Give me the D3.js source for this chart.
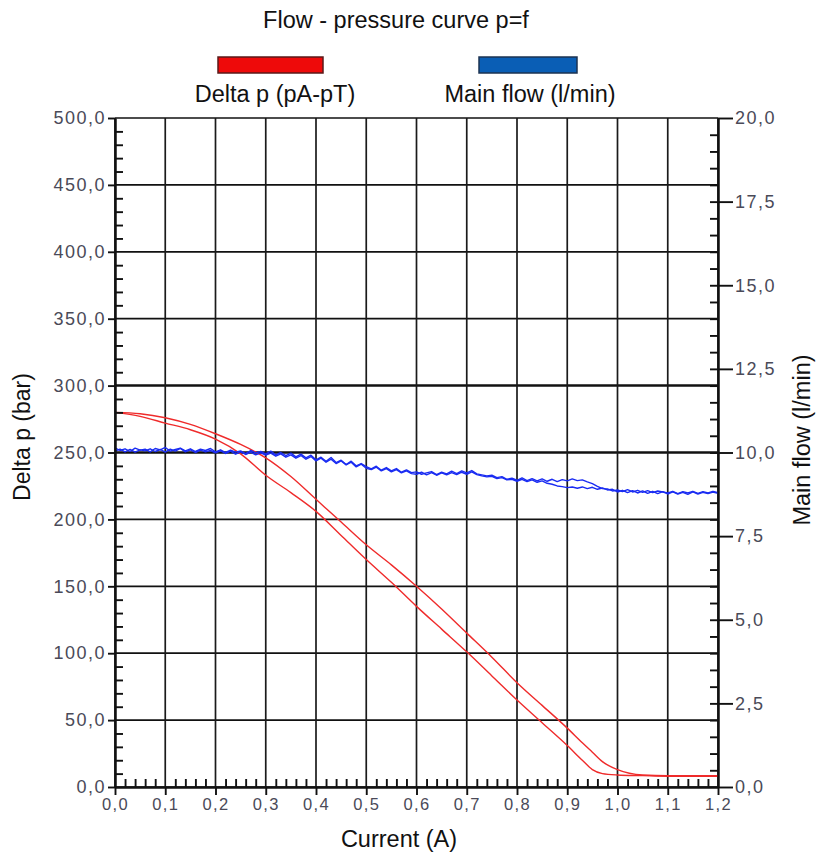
<!DOCTYPE html>
<html>
<head>
<meta charset="utf-8">
<script src="https://cdn.jsdelivr.net/npm/d3@7"></script>
<style>
  html, body { margin: 0; padding: 0; background: #fff; }
  svg { display: block; }
  .tick text { font-family: "Liberation Sans", Arial, sans-serif; font-size: 18px; letter-spacing: 1.5px; fill: #4a4a58; }
  .lbl { font-family: "Liberation Sans", Arial, sans-serif; fill: #111; }
</style>
</head>
<body>
<svg id="chart" width="818" height="856"></svg>
<script>
// ---------------- DATA ----------------
const chartTitle = "Flow - pressure curve p=f";
const seriesNames = ["Delta p (pA-pT)", "Main flow (l/min)"];
const xLabel = "Current (A)";
const yLeftLabel = "Delta p (bar)";
const yRightLabel = "Main flow (l/min)";

const xTicks = [0, 0.1, 0.2, 0.3, 0.4, 0.5, 0.6, 0.7, 0.8, 0.9, 1.0, 1.1, 1.2];
const yLeftTicks = [0, 50, 100, 150, 200, 250, 300, 350, 400, 450, 500];
const yRightTicks = [0, 2.5, 5, 7.5, 10, 12.5, 15, 17.5, 20];

// Delta p (bar): two hysteresis branches
const pressureX = [0, 0.05, 0.1, 0.15, 0.2, 0.25, 0.3, 0.35, 0.4, 0.45, 0.5, 0.55, 0.6, 0.65, 0.7, 0.75, 0.8, 0.85, 0.9, 0.93, 0.95, 0.97, 1.0, 1.05, 1.1, 1.15, 1.2];
const pressureLower = [280, 277, 272, 267, 260, 249, 233, 220, 206, 188, 170, 153, 135, 118, 101, 83, 65, 48, 31, 20, 13, 10, 9, 8.5, 8, 8, 8];
const pressureUpper = [280, 279, 276, 271, 264, 256, 246, 232, 215, 198, 181, 166, 150, 133, 115, 97, 78, 61, 44, 33, 26, 19, 13, 9, 8.5, 8.5, 8.5];

// Main flow (l/min): two noisy traces sampled every 0.01 A (0 .. 1.2)
const flowX = d3.range(0, 121).map(i => i / 100);
const flowTraceA = [
  10.14, 10.06, 10.11, 10.03, 10.13, 10.07, 10.10, 10.02, 10.12, 10.08,
  10.15, 10.04, 10.09, 10.13, 10.05, 10.11, 10.03, 10.10, 10.06, 10.12,
  10.02, 10.08, 10.00, 10.07, 10.01, 10.05, 9.97, 10.06, 9.99, 10.03,
  9.96, 10.04, 9.93, 10.00, 9.91, 9.98, 9.87, 9.95, 9.84, 9.92,
  9.78, 9.86, 9.74, 9.85, 9.70, 9.77, 9.64, 9.74, 9.60, 9.67,
  9.58, 9.51, 9.59, 9.47, 9.55, 9.45, 9.52, 9.41, 9.48, 9.40,
  9.42, 9.35, 9.39, 9.43, 9.34, 9.41, 9.36, 9.44, 9.37, 9.45,
  9.39, 9.46, 9.36, 9.33, 9.30, 9.32, 9.25, 9.28, 9.20, 9.23,
  9.17, 9.24, 9.16, 9.22, 9.15, 9.21, 9.14, 9.20, 9.13, 9.19,
  9.15, 9.21, 9.16, 9.18, 9.12, 9.07, 8.99, 8.92, 8.91, 8.85,
  8.88, 8.83, 8.89, 8.82, 8.87, 8.81, 8.86, 8.80, 8.85, 8.82,
  8.79, 8.84, 8.77, 8.83, 8.79, 8.84, 8.78, 8.83, 8.79, 8.84, 8.80
];
const flowTraceB = [
  10.04, 10.10, 10.02, 10.09, 10.01, 10.08, 10.05, 10.11, 10.03, 10.09,
  10.01, 10.10, 10.04, 10.12, 10.02, 10.08, 10.00, 10.07, 10.02, 10.06,
  9.99, 10.05, 9.97, 10.04, 9.95, 10.02, 9.94, 10.01, 9.93, 9.99,
  9.92, 9.98, 9.89, 9.96, 9.86, 9.93, 9.83, 9.91, 9.80, 9.88,
  9.75, 9.83, 9.71, 9.80, 9.67, 9.75, 9.63, 9.71, 9.57, 9.65,
  9.53, 9.49, 9.56, 9.45, 9.52, 9.42, 9.49, 9.39, 9.45, 9.37,
  9.35, 9.41, 9.33, 9.40, 9.32, 9.39, 9.33, 9.40, 9.34, 9.41,
  9.35, 9.42, 9.34, 9.30, 9.27, 9.29, 9.22, 9.25, 9.18, 9.20,
  9.14, 9.20, 9.13, 9.18, 9.11, 9.15, 9.08, 9.05, 9.00, 8.98,
  8.95, 8.97, 8.93, 8.97, 8.92, 8.96, 8.90, 8.94, 8.88, 8.90,
  8.82, 8.87, 8.80, 8.86, 8.79, 8.85, 8.78, 8.84, 8.77, 8.83,
  8.76, 8.82, 8.76, 8.81, 8.75, 8.82, 8.76, 8.81, 8.77, 8.82, 8.78
];

// ---------------- LAYOUT ----------------
const svg = d3.select("#chart");
const L = 115, R = 718, T = 118, B = 787;
const x = d3.scaleLinear().domain([0, 1.2]).range([L, R]);
const yL = d3.scaleLinear().domain([0, 500]).range([B, T]);
const yR = d3.scaleLinear().domain([0, 20]).range([B, T]);
const fmt1 = d => d3.format(".1f")(d).replace(".", ",");

// Gridlines
const grid = svg.append("g").attr("class", "grid");
grid.selectAll("line.h").data(yLeftTicks).join("line")
  .attr("x1", L).attr("x2", R)
  .attr("y1", d => yL(d)).attr("y2", d => yL(d))
  .attr("stroke", "#111")
  .attr("stroke-width", d => (d === 250 || d === 300) ? 2.5 : 1.7);
grid.selectAll("line.v").data(xTicks).join("line")
  .attr("x1", d => x(d)).attr("x2", d => x(d))
  .attr("y1", T).attr("y2", B)
  .attr("stroke", "#1a1a1a").attr("stroke-width", 1.7);

// Data lines
const redLine = d3.line().x(d => x(d[0])).y(d => yL(d[1])).curve(d3.curveMonotoneX);
[pressureLower, pressureUpper].forEach(arr => {
  svg.append("path")
    .datum(pressureX.map((v, i) => [v, arr[i]]))
    .attr("d", redLine)
    .attr("fill", "none").attr("stroke", "#ef2b2b").attr("stroke-width", 1.4);
});
const blueLine = d3.line().x(d => x(d[0])).y(d => yR(d[1]));
[flowTraceA, flowTraceB].forEach(arr => {
  svg.append("path")
    .datum(flowX.map((v, i) => [v, arr[i]]))
    .attr("d", blueLine)
    .attr("fill", "none").attr("stroke", "#1a2cf2").attr("stroke-width", 1.4)
    .attr("stroke-linejoin", "round");
});

// Axes
function styleAxis(g) {
  g.selectAll(".domain").attr("stroke", "#111").attr("stroke-width", 2);
  g.selectAll(".tick line").attr("stroke", "#111").attr("stroke-width", 1.9);
}
// left major
svg.append("g").attr("transform", `translate(${L},0)`)
  .call(d3.axisLeft(yL).tickValues(yLeftTicks).tickFormat(fmt1).tickSize(7).tickSizeOuter(0).tickPadding(2))
  .call(styleAxis);
// left minor (inward)
svg.append("g").attr("transform", `translate(${L},0)`)
  .call(d3.axisRight(yL).tickValues(d3.range(0, 51).filter(i => i % 5 !== 0).map(i => i * 10)).tickFormat("").tickSize(8).tickSizeOuter(0))
  .call(styleAxis);
// right major
svg.append("g").attr("transform", `translate(${R},0)`)
  .call(d3.axisRight(yR).tickValues(yRightTicks).tickFormat(fmt1).tickSize(15).tickSizeOuter(0).tickPadding(2))
  .call(styleAxis);
// right minor (inward)
svg.append("g").attr("transform", `translate(${R},0)`)
  .call(d3.axisLeft(yR).tickValues(d3.range(1, 40).map(i => i * 0.5)).tickFormat("").tickSize(8).tickSizeOuter(0))
  .call(styleAxis);
// bottom major
svg.append("g").attr("transform", `translate(0,${B})`)
  .call(d3.axisBottom(x).tickValues(xTicks).tickFormat(fmt1).tickSize(8).tickSizeOuter(0).tickPadding(3))
  .call(styleAxis)
  .call(g => g.selectAll(".tick text").style("font-size", "16.5px").style("letter-spacing", "1.3px"));
// bottom minor (inward)
svg.append("g").attr("transform", `translate(0,${B})`)
  .call(d3.axisTop(x).tickValues(d3.range(1, 60).filter(i => i % 5 !== 0).map(i => i / 50)).tickFormat("").tickSize(8).tickSizeOuter(0))
  .call(styleAxis);

// Title
svg.append("text").attr("class", "lbl")
  .attr("x", 396).attr("y", 28).attr("text-anchor", "middle")
  .style("font-size", "23.5px").text(chartTitle);

// Legend
const legendColors = ["#ee0a0a", "#0a5eb5"];
const legendStroke = ["#5a1a1a", "#1d3352"];
const legendRects = [[218, 105], [479, 98]];
const legendCx = [275, 530];
seriesNames.forEach((name, i) => {
  svg.append("rect")
    .attr("x", legendRects[i][0]).attr("y", 57)
    .attr("width", legendRects[i][1]).attr("height", 16)
    .attr("fill", legendColors[i]).attr("stroke", legendStroke[i]).attr("stroke-width", 1.5);
  svg.append("text").attr("class", "lbl")
    .attr("x", legendCx[i]).attr("y", 102).attr("text-anchor", "middle")
    .style("font-size", "23.5px").text(name);
});

// Axis titles
svg.append("text").attr("class", "lbl")
  .attr("transform", "translate(30,437) rotate(-90)")
  .attr("text-anchor", "middle").style("font-size", "23px").text(yLeftLabel);
svg.append("text").attr("class", "lbl")
  .attr("transform", "translate(810,440) rotate(-90)")
  .attr("text-anchor", "middle").style("font-size", "23.5px").text(yRightLabel);
svg.append("text").attr("class", "lbl")
  .attr("x", 399).attr("y", 847).attr("text-anchor", "middle")
  .style("font-size", "23.5px").text(xLabel);
</script>
</body>
</html>
